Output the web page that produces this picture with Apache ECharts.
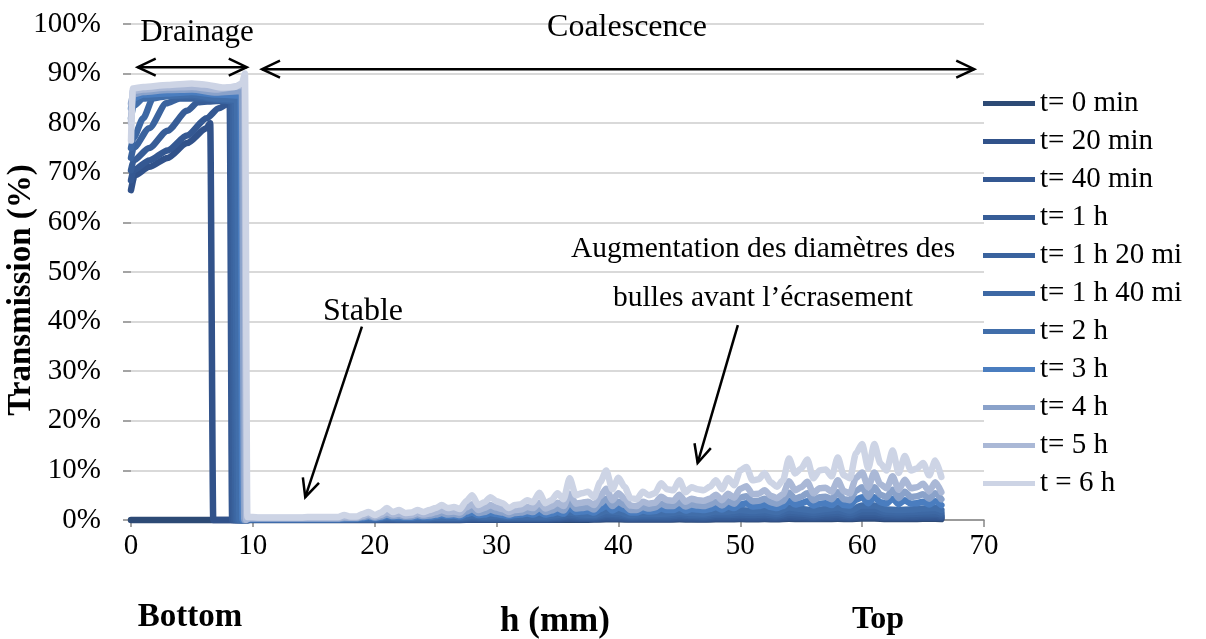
<!DOCTYPE html>
<html><head><meta charset="utf-8">
<script src="https://cdn.jsdelivr.net/npm/echarts@6/dist/echarts.min.js"></script>
<style>html,body{margin:0;padding:0;background:#fff}#c{width:1206px;height:639px}</style>
</head><body><div id="c"></div>
<script>
// ---------- DATA ----------
const seriesNames = ['t= 0 min','t= 20 min','t= 40 min','t= 1 h','t= 1 h 20 mi','t= 1 h 40 mi','t= 2 h','t= 3 h','t= 4 h','t= 5 h','t = 6 h'];
const seriesColors = ['#2D4A75','#31528A','#345892','#375D97','#3A639E','#3D68A4','#416EAA','#4A7DBF','#8AA2CA','#AAB8D6','#CDD4E5'];
const xTicks = [0,10,20,30,40,50,60,70];
const yTicks = [0,10,20,30,40,50,60,70,80,90,100];

// drainage zone (bottom of the column): h (mm) and transmission (%)
const drainH_t0   = [0, 3, 6, 9.5];
const drainT_t0   = [0, 0, 0, 0];
const drainH_t20  = [0, 0.3, 1.5, 3, 4.6, 6.2, 6.5, 6.75, 8, 9.5];
const drainT_t20  = [66.5, 69.5, 71.2, 73, 76, 79, 80, 0, 0, 0];
const drainH_t40  = [0, 0.2, 1.5, 3, 4.6, 6.2, 7.2, 8, 8.1, 8.3, 9.5];
const drainT_t40  = [68.5, 70.5, 72.5, 74.5, 77.5, 81, 83, 84, 84, 0, 0];
const drainH_t60  = [0, 0.2, 1.5, 3, 4.6, 5.5, 7, 8.2, 8.45, 9.5];
const drainT_t60  = [70.5, 72.5, 75, 78.5, 82.5, 84.2, 84.5, 84.5, 0, 0];
const drainH_t80  = [0, 0.2, 1.5, 2.9, 4, 6, 8, 8.35, 8.6, 9.5];
const drainT_t80  = [73, 75, 79, 84, 85, 85, 84.5, 84.5, 0, 0];
const drainH_t100 = [0, 0.2, 1, 1.8, 3, 5, 7, 8.5, 8.75, 9.5];
const drainT_t100 = [75, 77, 81, 85, 85.5, 85.5, 84.8, 84.5, 0, 0];
const drainH_t2h  = [0, 0.2, 1, 3, 5, 7, 8.7, 8.9, 9.5];
const drainT_t2h  = [81, 83.5, 85, 85.5, 85.8, 85, 84.8, 0, 0.1];
const drainH_t3h  = [0, 0.2, 1, 3, 5, 7, 9.0, 9.15, 9.6];
const drainT_t3h  = [83, 85, 85.8, 86, 86.3, 85.8, 85.6, 0, 0.2];
const drainH_t4h  = [0, 0.2, 1, 3, 5, 7, 9.1, 9.3, 9.6];
const drainT_t4h  = [84, 85.8, 86.3, 86.7, 86.8, 86.2, 86.5, 0, 0.3];
const drainH_t5h  = [0, 0.15, 1, 3, 5, 7, 9.0, 9.3, 9.45, 9.7];
const drainT_t5h  = [80, 86.5, 86.8, 87.2, 87.3, 86.8, 87.5, 88.5, 0, 0.4];
const drainH_t6h  = [0, 0.15, 1, 3, 5, 6, 7.5, 8.5, 9.1, 9.35, 9.55, 9.8];
const drainT_t6h  = [76.5, 87, 87.3, 87.7, 88, 87.8, 87.2, 87.3, 88, 90, 0.6, 0.6];

// coalescence zone, fine step (mm)
const hFine = [10,10.5,11,11.5,12,12.5,13,13.5,14,14.5,15,15.5,16,16.5,17,
  17.5,18,18.5,19,19.5,20,20.5,21,21.5,22,
  22.5,23,23.5,24,24.5,25,25.5,26,26.5,27,
  27.5,28,28.5,29,29.5,30,30.5,31,31.5,32,
  32.5,33,33.5,34,34.5,35,35.5,36,36.5,37,
  37.5,38,38.5,39,39.5,40,40.5,41,41.5,42,
  42.5,43,43.5,44,44.5,45,45.5,46,46.5,47,
  47.5,48,48.5,49,49.5,50,50.5,51,51.5,52,
  52.5,53,53.5,54,54.5,55,55.5,56,56.5,57,
  57.5,58,58.5,59,59.5,60,60.5,61,61.5,62,
  62.5,63,63.5,64,64.5,65,65.5,66,66.5];
const coal_t6h = [0.6,0.5,0.5,0.5,0.5,0.5,0.5,0.5,0.5,0.6,0.6,0.6,0.6,0.6,0.6,
  1.0,0.7,0.7,1.2,1.6,1.0,1.5,2.4,1.6,2.0,
  1.4,1.5,2.0,1.6,2.0,2.4,3.0,2.4,2.6,2.2,
  3.8,5.0,3.0,3.6,4.6,3.8,3.4,2.4,3.0,3.2,
  4.0,3.6,5.5,3.4,4.0,5.4,4.2,8.4,5.0,5.4,
  5.7,4.6,7.6,10.0,6.2,8.5,6.7,4.4,4.2,5.7,
  5.0,5.4,7.4,6.2,6.0,8.0,5.6,6.6,6.2,6.0,
  6.7,8.0,6.2,8.4,7.0,10.0,10.7,8.0,8.2,9.5,
  7.6,6.7,8.0,12.4,9.4,10.4,12.2,8.4,10.0,10.2,
  8.8,12.6,9.0,8.4,13.5,15.3,10.4,15.3,11.4,10.0,
  14.0,9.5,12.9,10.0,10.4,11.5,9.0,12.0,8.7];
const coal_t5h = [0.4,0.4,0.4,0.4,0.4,0.4,0.4,0.4,0.4,0.4,0.4,0.4,0.4,0.4,0.4,
  0.6,0.5,0.5,0.8,1.2,0.7,1.0,1.6,1.1,1.3,
  0.9,1.0,1.4,1.1,1.3,1.6,2.0,1.6,1.7,1.5,
  2.5,3.2,2.0,2.4,3.0,2.5,2.2,1.6,2.0,2.1,
  2.6,2.4,3.5,2.3,2.7,3.5,2.8,5.3,3.3,3.5,
  3.7,3.0,4.8,6.3,4.0,5.4,4.3,2.9,2.8,3.7,
  3.3,3.5,4.7,4.0,3.9,5.1,3.7,4.3,4.0,3.9,
  4.3,5.1,4.0,5.3,4.5,6.3,6.8,5.2,5.3,6.0,
  4.9,4.4,5.2,7.8,6.0,6.6,7.7,5.4,6.4,6.5,
  5.7,8.0,5.8,5.4,8.5,9.6,6.6,9.6,7.2,6.4,
  8.8,6.1,8.1,6.4,6.6,7.3,5.8,7.6,5.6];
const coal_t4h = [0.3,0.3,0.3,0.3,0.3,0.3,0.3,0.3,0.3,0.3,0.3,0.3,0.3,0.3,0.3,
  0.4,0.4,0.4,0.6,0.8,0.5,0.7,1.1,0.8,0.9,
  0.7,0.7,1.0,0.8,0.9,1.1,1.4,1.1,1.2,1.0,
  1.7,2.2,1.4,1.6,2.1,1.7,1.5,1.1,1.4,1.5,
  1.8,1.6,2.4,1.6,1.9,2.4,1.9,3.6,2.3,2.4,
  2.6,2.1,3.3,4.3,2.8,3.7,3.0,2.0,2.0,2.6,
  2.3,2.5,3.3,2.8,2.8,3.6,2.7,3.1,2.9,2.8,
  3.1,3.7,2.9,3.8,3.3,4.5,4.8,3.8,3.9,4.3,
  3.6,3.3,3.8,5.5,4.3,4.7,5.4,4.0,4.6,4.7,
  4.2,5.6,4.2,4.0,5.9,6.6,4.7,6.6,5.1,4.6,
  6.1,4.4,5.7,4.6,4.8,5.2,4.3,5.4,4.2];
const coal_t3h = [0.2,0.2,0.2,0.2,0.2,0.2,0.2,0.2,0.2,0.2,0.2,0.2,0.2,0.2,0.2,
  0.3,0.3,0.3,0.4,0.6,0.4,0.5,0.8,0.6,0.6,
  0.5,0.5,0.7,0.6,0.6,0.8,1.0,0.8,0.9,0.7,
  1.2,1.5,1.0,1.1,1.4,1.2,1.0,0.8,1.0,1.1,
  1.3,1.1,1.6,1.1,1.3,1.6,1.3,2.4,1.6,1.7,
  1.8,1.5,2.2,2.9,1.9,2.5,2.1,1.5,1.5,1.9,
  1.7,1.8,2.3,2.0,2.0,2.5,1.9,2.2,2.1,2.0,
  2.2,2.6,2.1,2.7,2.4,3.1,3.4,2.7,2.8,3.1,
  2.6,2.4,2.8,3.9,3.1,3.4,3.8,2.9,3.3,3.4,
  3.0,3.9,3.0,2.9,4.1,4.6,3.4,4.6,3.6,3.3,
  4.3,3.2,4.0,3.3,3.4,3.7,3.1,3.8,3.0];

// coalescence zone, coarse step (mm)
const hCoarse = [10,11,12,13,14,15,16,17,
  18,19,20,21,22,23,24,25,26,27,
  28,29,30,31,32,33,34,35,36,37,
  38,39,40,41,42,43,44,45,46,47,
  48,49,50,51,52,53,54,55,56,57,
  58,59,60,61,62,63,64,65,66,66.5];
const coal_t2h = [0.2,0.2,0.2,0.2,0.2,0.2,0.2,0.2,
  0.2,0.3,0.3,0.5,0.4,0.4,0.4,0.5,0.5,0.5,
  0.9,0.7,0.8,0.6,0.7,0.7,0.7,1.0,1.5,1.1,
  1.0,1.8,1.6,1.0,1.2,1.2,1.3,1.6,1.4,1.3,
  1.7,1.7,2.0,1.8,2.0,1.6,2.5,2.2,1.9,2.2,
  2.5,1.9,2.9,2.9,2.1,2.0,2.1,2.3,2.4,2.0];
const coal_t100 = [0.15,0.15,0.15,0.15,0.15,0.15,0.15,0.15,
  0.2,0.2,0.2,0.4,0.3,0.3,0.3,0.4,0.4,0.4,
  0.7,0.5,0.6,0.5,0.5,0.5,0.5,0.7,1.1,0.8,
  0.8,1.3,1.2,0.8,0.9,0.9,1.0,1.2,1.0,1.0,
  1.3,1.3,1.5,1.4,1.5,1.2,1.9,1.7,1.4,1.7,
  1.9,1.4,2.2,2.2,1.6,1.5,1.6,1.7,1.8,1.5];
const coal_t80 = [0.1,0.1,0.1,0.1,0.1,0.1,0.1,0.1,
  0.15,0.15,0.15,0.3,0.2,0.2,0.2,0.3,0.3,0.3,
  0.5,0.4,0.4,0.4,0.4,0.4,0.4,0.5,0.8,0.6,
  0.6,1.0,0.9,0.6,0.7,0.7,0.7,0.9,0.8,0.7,
  1.0,1.0,1.1,1.0,1.1,0.9,1.4,1.3,1.0,1.3,
  1.4,1.0,1.6,1.6,1.2,1.1,1.2,1.3,1.3,1.1];
const coal_t60 = [0.1,0.1,0.1,0.1,0.1,0.1,0.1,0.1,
  0.1,0.1,0.1,0.2,0.2,0.15,0.15,0.2,0.2,0.2,
  0.35,0.3,0.3,0.3,0.3,0.3,0.3,0.4,0.6,0.45,
  0.45,0.7,0.65,0.45,0.5,0.5,0.5,0.65,0.6,0.5,
  0.7,0.7,0.8,0.75,0.8,0.65,1.0,0.9,0.75,0.9,
  1.0,0.75,1.2,1.2,0.9,0.8,0.9,0.95,1.0,0.8];
const coal_t40 = [0.1,0.1,0.1,0.1,0.1,0.1,0.1,0.1,
  0.1,0.1,0.1,0.1,0.1,0.1,0.1,0.1,0.1,0.1,
  0.2,0.2,0.2,0.2,0.2,0.2,0.2,0.3,0.4,0.3,
  0.3,0.5,0.45,0.3,0.35,0.35,0.35,0.45,0.4,0.35,
  0.5,0.5,0.55,0.5,0.55,0.45,0.7,0.65,0.55,0.65,
  0.7,0.55,0.85,0.85,0.65,0.6,0.65,0.7,0.7,0.6];
const coal_t20 = [0.05,0.05,0.05,0.05,0.05,0.05,0.05,0.05,
  0.05,0.05,0.05,0.05,0.05,0.05,0.05,0.05,0.05,0.05,
  0.1,0.1,0.1,0.1,0.1,0.1,0.1,0.15,0.25,0.2,
  0.2,0.3,0.3,0.2,0.2,0.2,0.2,0.3,0.25,0.2,
  0.3,0.3,0.35,0.3,0.35,0.3,0.45,0.4,0.35,0.4,
  0.45,0.35,0.55,0.55,0.4,0.4,0.4,0.45,0.45,0.4];
const coal_t0 = [0,0,0,0,0,0,0,0,
  0,0,0,0,0,0,0,0,0,0,
  0.05,0.05,0.05,0.05,0.05,0.05,0.05,0.05,0.05,0.05,
  0.1,0.15,0.15,0.1,0.1,0.1,0.1,0.15,0.1,0.1,
  0.15,0.15,0.2,0.15,0.2,0.15,0.25,0.2,0.2,0.2,
  0.25,0.2,0.3,0.3,0.2,0.2,0.2,0.25,0.25,0.2];

// ---------- BUILD ----------
function pairs(hs, vs) {
  const out = [];
  const n = Math.min(hs.length, vs.length);
  for (let i = 0; i < n; i++) out.push([hs[i], vs[i]]);
  return out;
}
const seriesData = [
  pairs(drainH_t0, drainT_t0).concat(pairs(hCoarse, coal_t0)),
  pairs(drainH_t20, drainT_t20).concat(pairs(hCoarse, coal_t20)),
  pairs(drainH_t40, drainT_t40).concat(pairs(hCoarse, coal_t40)),
  pairs(drainH_t60, drainT_t60).concat(pairs(hCoarse, coal_t60)),
  pairs(drainH_t80, drainT_t80).concat(pairs(hCoarse, coal_t80)),
  pairs(drainH_t100, drainT_t100).concat(pairs(hCoarse, coal_t100)),
  pairs(drainH_t2h, drainT_t2h).concat(pairs(hCoarse, coal_t2h)),
  pairs(drainH_t3h, drainT_t3h).concat(pairs(hFine, coal_t3h)),
  pairs(drainH_t4h, drainT_t4h).concat(pairs(hFine, coal_t4h)),
  pairs(drainH_t5h, drainT_t5h).concat(pairs(hFine, coal_t5h)),
  pairs(drainH_t6h, drainT_t6h).concat(pairs(hFine, coal_t6h))
];

const FONT = '"Liberation Serif", "Times New Roman", serif';
const chart = echarts.init(document.getElementById('c'));

const option = {
  animation: false,
  backgroundColor: '#fff',
  grid: { left: 131, right: 222, top: 24, bottom: 119, containLabel: false, outerBoundsMode: 'none' },
  xAxis: {
    type: 'value', min: xTicks[0], max: xTicks[xTicks.length-1], interval: 10,
    axisLine: { show: true, lineStyle: { color: '#868686', width: 1.5 } },
    axisTick: { show: true, length: 7, lineStyle: { color: '#868686', width: 1.5 } },
    axisLabel: { fontFamily: FONT, fontSize: 29, color: '#000', margin: 12 },
    splitLine: { show: false }
  },
  yAxis: {
    type: 'value', min: yTicks[0], max: yTicks[yTicks.length-1], interval: 10,
    axisLine: { show: false },
    axisTick: { show: true, inside: false, length: 8, lineStyle: { color: '#868686', width: 1.5 } },
    axisLabel: { fontFamily: FONT, fontSize: 29, color: '#000', margin: 30, formatter: '{value}%' },
    splitLine: { show: true, lineStyle: { color: '#D9D9D9', width: 2 } }
  },
  legend: {
    orient: 'vertical', left: 983, top: 89, padding: 0,
    itemWidth: 52, itemHeight: 5, itemGap: 9, icon: 'rect',
    textStyle: { fontFamily: FONT, fontSize: 29, color: '#000', lineHeight: 29 },
    data: seriesNames
  },
  series: seriesNames.map((name, i) => ({
    name: name, type: 'line', data: seriesData[i],
    showSymbol: false, symbol: 'none', clip: false, smooth: 0.25, smoothMonotone: 'x',
    color: seriesColors[i],
    lineStyle: { color: seriesColors[i], width: 6.5, join: 'round', cap: 'round' },
    z: 2 + i
  }))
};
chart.setOption(option);

// ---------- ANNOTATIONS ----------
const arrowDefs = [
  { from: [0.55, 91.3], to: [9.5, 91.3], both: true },
  { from: [10.75, 90.9], to: [69.2, 90.9], both: true },
  { from: [18.95, 39], to: [14.3, 4.6], both: false },
  { from: [49.8, 39.3], to: [46.5, 11.5], both: false }
];
const px = d => chart.convertToPixel({ gridIndex: 0 }, d);
const graphics = [];
const lineStyle = { stroke: '#000', lineWidth: 2.5, fill: null, lineJoin: 'miter' };
function head(tip, tail) {
  const dx = tip[0] - tail[0], dy = tip[1] - tail[1];
  const len = Math.sqrt(dx*dx + dy*dy);
  const ux = dx/len, uy = dy/len, nx = -uy, ny = ux;
  const L = 18, W = 8.5;
  return [[tip[0]-L*ux+W*nx, tip[1]-L*uy+W*ny], tip, [tip[0]-L*ux-W*nx, tip[1]-L*uy-W*ny]];
}
arrowDefs.forEach(a => {
  const p0 = px(a.from), p1 = px(a.to);
  graphics.push({ type: 'polyline', shape: { points: [p0, p1] }, style: lineStyle, z: 100 });
  graphics.push({ type: 'polyline', shape: { points: head(p1, p0) }, style: lineStyle, z: 100 });
  if (a.both) graphics.push({ type: 'polyline', shape: { points: head(p0, p1) }, style: lineStyle, z: 100 });
});
const texts = [
  { t: 'Drainage', x: 197, y: 33, w: 'normal', s: 31 },
  { t: 'Coalescence', x: 627, y: 28, w: 'normal', s: 32 },
  { t: 'Stable', x: 363, y: 312, w: 'normal', s: 32 },
  { t: 'Augmentation des diamètres des', x: 763, y: 249, w: 'normal', s: 29.5 },
  { t: 'bulles avant l’écrasement', x: 763, y: 298, w: 'normal', s: 29.5 },
  { t: 'Bottom', x: 190, y: 617, w: 'bold', s: 33 },
  { t: 'Top', x: 878, y: 620, w: 'bold', s: 32 },
  { t: 'h (mm)', x: 555, y: 622, w: 'bold', s: 35 },
  { t: 'Transmission (%)', x: 21, y: 290, w: 'bold', s: 33, r: Math.PI / 2 }
];
texts.forEach(o => {
  graphics.push({ type: 'text', x: o.x, y: o.y, rotation: o.r || 0, z: 100,
    style: { text: o.t, fill: '#000', fontFamily: FONT, fontSize: o.s, fontWeight: o.w,
      align: 'center', verticalAlign: 'middle', textAlign: 'center', textVerticalAlign: 'middle' } });
});
chart.setOption({ graphic: graphics });
</script>
</body></html>
